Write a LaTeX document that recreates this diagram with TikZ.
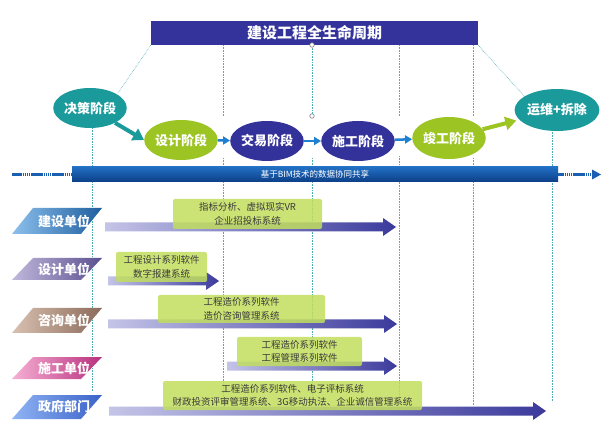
\documentclass[tikz,border=0pt]{standalone}
\usepackage{fontspec}
\setmainfont{Noto Sans CJK SC}
\usetikzlibrary{shapes.geometric,arrows.meta}
\definecolor{tealc}{HTML}{1A9A9B}
\definecolor{greenc}{HTML}{9CC423}
\definecolor{navyc}{HTML}{33329A}
\definecolor{titlec}{HTML}{34339B}
\definecolor{bimtop}{HTML}{2270C4}
\definecolor{bimbot}{HTML}{0B3E86}
\definecolor{arrowblue}{HTML}{1F7FD0}
\definecolor{bimdashc}{HTML}{1A5FB0}
\definecolor{guidec}{HTML}{4FAFB0}
\definecolor{boxc}{HTML}{C2DE5E}
\definecolor{arrlight}{HTML}{C4C4E8}
\definecolor{arrdark}{HTML}{3B3A9C}
\definecolor{textc}{HTML}{3A3A3A}
\definecolor{jsl}{HTML}{8CC0EC}\definecolor{jsd}{HTML}{1F5E9F}
\definecolor{sjl}{HTML}{C0B8DC}\definecolor{sjd}{HTML}{5B5090}
\definecolor{zxl}{HTML}{D8C0B0}\definecolor{zxd}{HTML}{8B6A5A}
\definecolor{sgl}{HTML}{F6B0D4}\definecolor{sgd}{HTML}{B8307E}
\definecolor{zfl}{HTML}{90B4F4}\definecolor{zfd}{HTML}{3A62C8}
\newcommand\myrowarrow[3]{%
  \shade[left color=arrlight,right color=arrdark]
    (#1,#3-4.5) -- (#2-13,#3-4.5) -- (#2-13,#3-9) -- (#2,#3) -- (#2-13,#3+9)
    -- (#2-13,#3+4.5) -- (#1,#3+4.5) -- cycle;}
\newcommand\myunitlabel[6]{%
  \shade[left color=#4,right color=#5]
    (33,#2) -- (102,#2) -- (81,#3) -- (12,#3) -- cycle;
  \node[unittext] (#1) at (64,{(#2+#3)/2}) {#6};}
\begin{document}
\begin{tikzpicture}[x=1pt,y=-1pt,
  phase/.style={ellipse, inner sep=0pt, text=white,
    font=\bfseries\fontsize{13}{13}\selectfont},
  guide/.style={draw=guidec, line width=0.6pt, densely dotted},
  unittext/.style={text=white, font=\bfseries\fontsize{13}{13}\selectfont, inner sep=0pt},
  infobox/.style={fill=boxc, fill opacity=0.85, text opacity=1, rounded corners=2pt,
    text=textc, align=center, inner sep=0pt, font=\fontsize{9.5}{13.5}\selectfont},
  bigarrow/.style={line width=4pt, -{Triangle[length=11pt,width=13pt]}},
  smallarrow/.style={draw=arrowblue, line width=2.5pt, -{Triangle[length=7pt,width=8pt]}},
  bimdash/.style={draw=bimdashc, line width=3pt, dash pattern=on 1.6pt off 0.5pt},
  dotc/.style={circle, draw=gray, fill=white, line width=0.6pt, inner sep=0pt, minimum size=4.5pt}
]
\useasboundingbox (0,0) rectangle (602,427);
\fill[white] (0,0) rectangle (602,427);

% title bar
\node[fill=titlec, text=white, minimum width=327pt, minimum height=24pt, inner sep=0pt,
  font=\bfseries\fontsize{15}{15}\selectfont] (title) at (314.5,33) {建设工程全生命周期};

% guide lines (upper part)
\coordinate (g1) at (223,45);
\coordinate (g1b) at (223,116);
\coordinate (g3) at (399,45);
\coordinate (g3b) at (399,116);
\coordinate (g4) at (473,45);
\coordinate (g4b) at (473,116);
\draw[guide] (g1) -- (g1b);
\draw[guide] (g3) -- (g3b);
\draw[guide] (g4) -- (g4b);
\coordinate (dl) at (118,93);
\coordinate (dr) at (525,97);
\draw[guide] (title.south west) -- (dl);
\draw[guide] (title.south east) -- (dr);

% guide lines (lower part)
\foreach \gx/\ga/\gb in {92/128/392, 223/158/414, 312/158/395, 399/156/398, 473/158/405, 552/130/402}{
  \draw[guide] (\gx,\ga) -- (\gx,\gb);
}
\node[dotc] (c1) at (312,45) {};
\node[dotc] (c2) at (312,116) {};
\draw[guide] (c1) -- (c2);

% phases
\node[phase, fill=tealc, minimum width=68pt, minimum height=40pt] (jc) at (90,108) {决策阶段};
\node[phase, fill=greenc, minimum width=65pt, minimum height=40pt] (sj) at (181,140) {设计阶段};
\node[phase, fill=navyc, minimum width=66pt, minimum height=40pt] (jy) at (267,141) {交易阶段};
\node[phase, fill=navyc, minimum width=66pt, minimum height=40pt] (sg) at (358,141) {施工阶段};
\node[phase, fill=greenc, minimum width=66pt, minimum height=42pt] (jg) at (449,138) {竣工阶段};
\node[phase, fill=tealc, minimum width=80pt, minimum height=42pt] (yw) at (557,110) {运维+拆除};

\draw[bigarrow, draw=tealc] (jc) -- (sj.west);
\draw[smallarrow] (sj) -- (jy);
\draw[smallarrow] (jy.east) -- (sg.west);
\draw[smallarrow] (sg) -- (jg);
\draw[bigarrow, draw=greenc, shorten >=3pt] (jg) -- (yw);

% BIM bar
\node[top color=bimtop, bottom color=bimbot, minimum width=486pt, minimum height=15pt,
  inner sep=0pt, text=white, font=\fontsize{8.5}{8.5}\selectfont] (bim) at (315,174.5)
  {基于BIM技术的数据协同共享};
\coordinate (bl) at (12,174.5);
\coordinate (br) at (601,174.5);
\draw[bimdash] (bl) -- (bim.west);
\draw[bimdash] (bim.east) -- ([xshift=-8pt]br);
\fill[bimdashc] (br) -- ++(-9,-5) -- ++(0,10) -- cycle;

% row labels
\myunitlabel{jsdw}{208}{234}{jsl}{jsd}{建设单位}
\myunitlabel{sjdw}{258}{280}{sjl}{sjd}{设计单位}
\myunitlabel{zxdw}{308}{333}{zxl}{zxd}{咨询单位}
\myunitlabel{sgdw}{357}{379}{sgl}{sgd}{施工单位}
\myunitlabel{zfbm}{395}{419}{zfl}{zfd}{政府部门}

% row arrows
\myrowarrow{105}{396}{227}
\myrowarrow{108}{219}{281}
\myrowarrow{108}{397}{324}
\myrowarrow{227}{397}{366}
\myrowarrow{109}{546}{411}

% info boxes
\node[infobox, minimum width=149pt, minimum height=30pt] (jsbox) at (247.5,214)
  {指标分析、虚拟现实VR\\企业招投标系统};
\node[infobox, minimum width=91pt, minimum height=30pt] (sjbox) at (161.5,267)
  {工程设计系列软件\\数字报建系统};
\node[infobox, minimum width=167pt, minimum height=28pt] (zxbox) at (241.5,309)
  {工程造价系列软件\\造价咨询管理系统};
\node[infobox, minimum width=125pt, minimum height=29pt] (sgbox) at (299.5,351.5)
  {工程造价系列软件\\工程管理系列软件};
\node[infobox, minimum width=259pt, minimum height=29pt] (zfbox) at (292.5,395.5)
  {工程造价系列软件、电子评标系统\\财政投资评审管理系统、3G移动执法、企业诚信管理系统};
\end{tikzpicture}
\end{document}
